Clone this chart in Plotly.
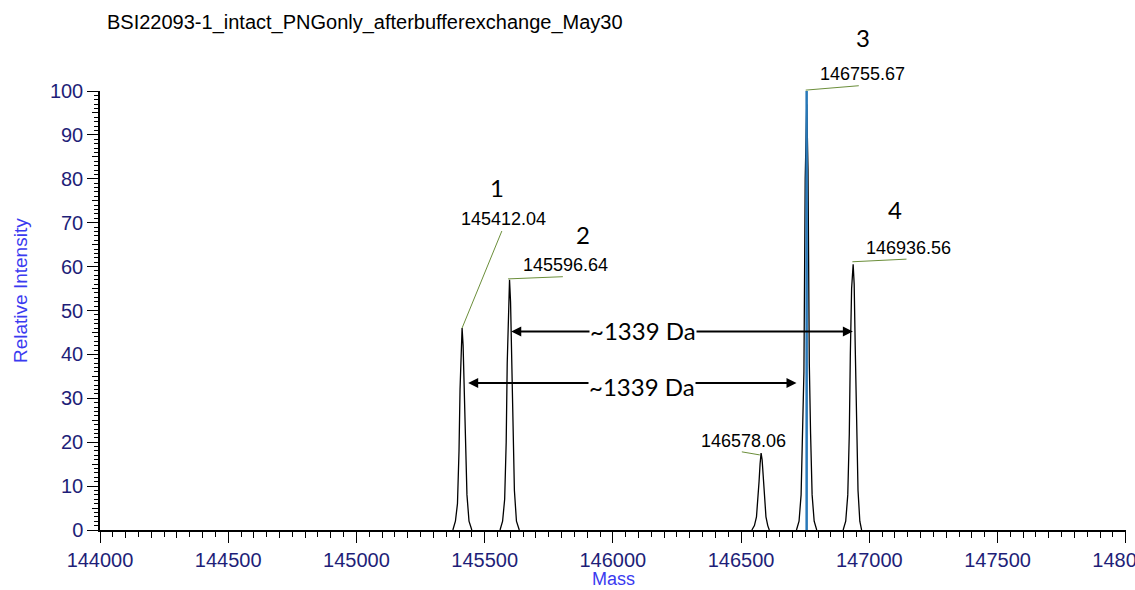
import plotly.graph_objects as go

TITLE = "BSI22093-1_intact_PNGonly_afterbufferexchange_May30"

# Peak profiles (mass, relative intensity)
p1_mass = [145376, 145386, 145394, 145400, 145404, 145408, 145412, 145416, 145420, 145425, 145431, 145439, 145450]
p1_int = [0, 2, 6, 18, 32, 41, 46, 42, 34, 20, 8, 2, 0]

p2_mass = [145560, 145570, 145578, 145584, 145588, 145592, 145597, 145601, 145605, 145610, 145616, 145624, 145635]
p2_int = [0, 2, 7, 20, 38, 50, 57, 52, 40, 24, 9, 2, 0]

p5_mass = [146542, 146552, 146560, 146566, 146570, 146574, 146578, 146582, 146586, 146591, 146597, 146604, 146610]
p5_int = [0, 1, 3, 7, 11, 15, 17.5, 16, 12, 7, 3, 1, 0]

p3_mass = [146716, 146726, 146734, 146740, 146745, 146750, 146756, 146761, 146766, 146771, 146777, 146785, 146795]
p3_int = [0, 2, 8, 22, 36, 80, 97, 82, 38, 22, 8, 2, 0]

p4_mass = [146898, 146908, 146916, 146922, 146926, 146931, 146937, 146941, 146945, 146950, 146956, 146963, 146970]
p4_int = [0, 2, 8, 22, 40, 55, 60.5, 56, 42, 24, 9, 2, 0]

stick_mass = [146755.67]
stick_int = [100]

# Peak labels
lab_text = ["145412.04", "145596.64", "146755.67", "146936.56", "146578.06"]
lab_x = [145575, 145817, 146975, 147152, 146511]
lab_y = [70.8, 60.4, 103.9, 64.2, 20.3]
lead_x0 = [145412, 145591, 146752, 146934, 146573]
lead_y0 = [46, 57.2, 100.2, 61.1, 17.1]
lead_x1 = [145567, 145805, 146959, 147145, 146503]
lead_y1 = [68.1, 57.7, 101.2, 61.7, 17.8]

num_text = ["1", "2", "3", "4"]
num_x = [145548, 145883, 146975, 147099]
num_y = [78.1, 67.4, 112.3, 72.9]

# Mass-difference arrows
arr_x0 = [145598, 145430]
arr_x1 = [146936, 146716]
arr_y = [45.2, 33.5]
arr_text = ["~1339 Da", "~1339 Da"]
arr_tx = [146119, 146113]
arr_ty = [45.5, 32.6]

XMIN, XMAX = 144000, 148001
YMIN, YMAX = 0, 100


def px(m):
    return (m - XMIN) / (XMAX - XMIN)


def py(v):
    return (v - YMIN) / (YMAX - YMIN)


NAVY = "#1e1e78"
BLUE = "#3a3af0"

fig = go.Figure()
for mx, iy in [(p1_mass, p1_int), (p2_mass, p2_int), (p5_mass, p5_int), (p3_mass, p3_int), (p4_mass, p4_int)]:
    fig.add_trace(go.Scatter(x=mx, y=iy, mode="lines", line=dict(color="black", width=1.3),
                             showlegend=False, hoverinfo="skip"))
fig.add_trace(go.Scatter(x=[stick_mass[0], stick_mass[0]], y=[0, stick_int[0]], mode="lines",
                         line=dict(color="#2878b8", width=2.5), showlegend=False))

for i in range(len(lab_text)):
    fig.add_shape(type="line", x0=px(lead_x0[i]), y0=py(lead_y0[i]), x1=px(lead_x1[i]), y1=py(lead_y1[i]),
                  xref="paper", yref="paper", line=dict(color="#6b8e3a", width=1))
    fig.add_annotation(x=px(lab_x[i]), y=py(lab_y[i]), xref="paper", yref="paper",
                       xanchor="center", yanchor="middle",
                       text=lab_text[i], showarrow=False,
                       font=dict(family="Liberation Sans, Arial", size=18, color="black"))

for i in range(len(num_text)):
    fig.add_annotation(x=px(num_x[i]), y=py(num_y[i]), xref="paper", yref="paper",
                       xanchor="center", yanchor="middle",
                       text=num_text[i], showarrow=False,
                       font=dict(family="Lato, Open Sans", size=24, color="black"))

for i in range(len(arr_text)):
    fig.add_annotation(x=arr_x1[i], y=arr_y[i], ax=arr_x0[i], ay=arr_y[i], xref="x", yref="y",
                       axref="x", ayref="y", text="", showarrow=True, arrowhead=2, arrowsize=1,
                       arrowwidth=2, arrowside="end+start", arrowcolor="black")
for i in range(len(arr_text)):
    fig.add_annotation(x=arr_tx[i], y=arr_ty[i], text=arr_text[i], showarrow=False,
                       bgcolor="white", borderpad=0,
                       font=dict(family="Lato, Open Sans", size=24, color="black"))

fig.add_annotation(xref="paper", yref="paper", x=(105 - 100) / 1026, y=(530 - 22) / 439,
                   xanchor="left", yanchor="middle", text=TITLE, showarrow=False,
                   font=dict(family="Liberation Sans, Arial", size=20, color="black"))
fig.add_annotation(xref="paper", yref="paper", x=(20 - 100) / 1026, y=(530 - 291) / 439,
                   xanchor="center", yanchor="middle",
                   text="Relative Intensity", textangle=-90, showarrow=False,
                   font=dict(family="Liberation Sans, Arial", size=19, color=BLUE))
fig.add_annotation(xref="paper", yref="paper", x=(613 - 100) / 1026, y=(530 - 579) / 439,
                   xanchor="center", yanchor="middle", text="Mass", showarrow=False,
                   font=dict(family="Liberation Sans, Arial", size=18, color=BLUE))

fig.update_layout(
    width=1135, height=590,
    margin=dict(l=100, r=9, t=91, b=60, autoexpand=False),
    plot_bgcolor="white", paper_bgcolor="white",
    showlegend=False,
    xaxis=dict(range=[XMIN, XMAX], dtick=500, tick0=144000, tickformat="d", showgrid=False, zeroline=False,
               showline=True, linecolor="black", linewidth=1.5, ticks="outside", ticklen=11,
               tickcolor="black", tickwidth=1.3, ticklabeloverflow="allow", automargin=False,
               tickfont=dict(family="Liberation Sans, Arial", size=20, color=NAVY),
               minor=dict(dtick=50, tick0=144000, ticklen=5, tickcolor="black", ticks="outside", showgrid=False)),
    xaxis2=dict(overlaying="x", anchor="y", side="bottom", range=[XMIN, XMAX], dtick=100,
                tick0=144000, showticklabels=False, showgrid=False, zeroline=False, showline=False,
                ticks="outside", ticklen=7, tickcolor="black", tickwidth=1.2, automargin=False),
    yaxis=dict(range=[YMIN, YMAX], dtick=10, tick0=0, showgrid=False, zeroline=False,
               showline=True, linecolor="black", linewidth=1.5, ticks="outside", ticklen=11,
               tickcolor="black", tickwidth=1.3, automargin=False,
               tickfont=dict(family="Liberation Sans, Arial", size=20, color=NAVY),
               minor=dict(dtick=1, tick0=0, ticklen=4, tickcolor="black", ticks="outside", showgrid=False)),
    yaxis2=dict(overlaying="y", anchor="x", side="left", range=[YMIN, YMAX], dtick=5, tick0=0,
                showticklabels=False, showgrid=False, zeroline=False, showline=False,
                ticks="outside", ticklen=7, tickcolor="black", tickwidth=1.2, automargin=False),
)
# invisible trace to activate the overlay tick axes
fig.add_trace(go.Scatter(x=[144000], y=[0], xaxis="x2", yaxis="y2", mode="markers",
                         marker=dict(opacity=0), showlegend=False, hoverinfo="skip"))

fig.write_html("out.html")
